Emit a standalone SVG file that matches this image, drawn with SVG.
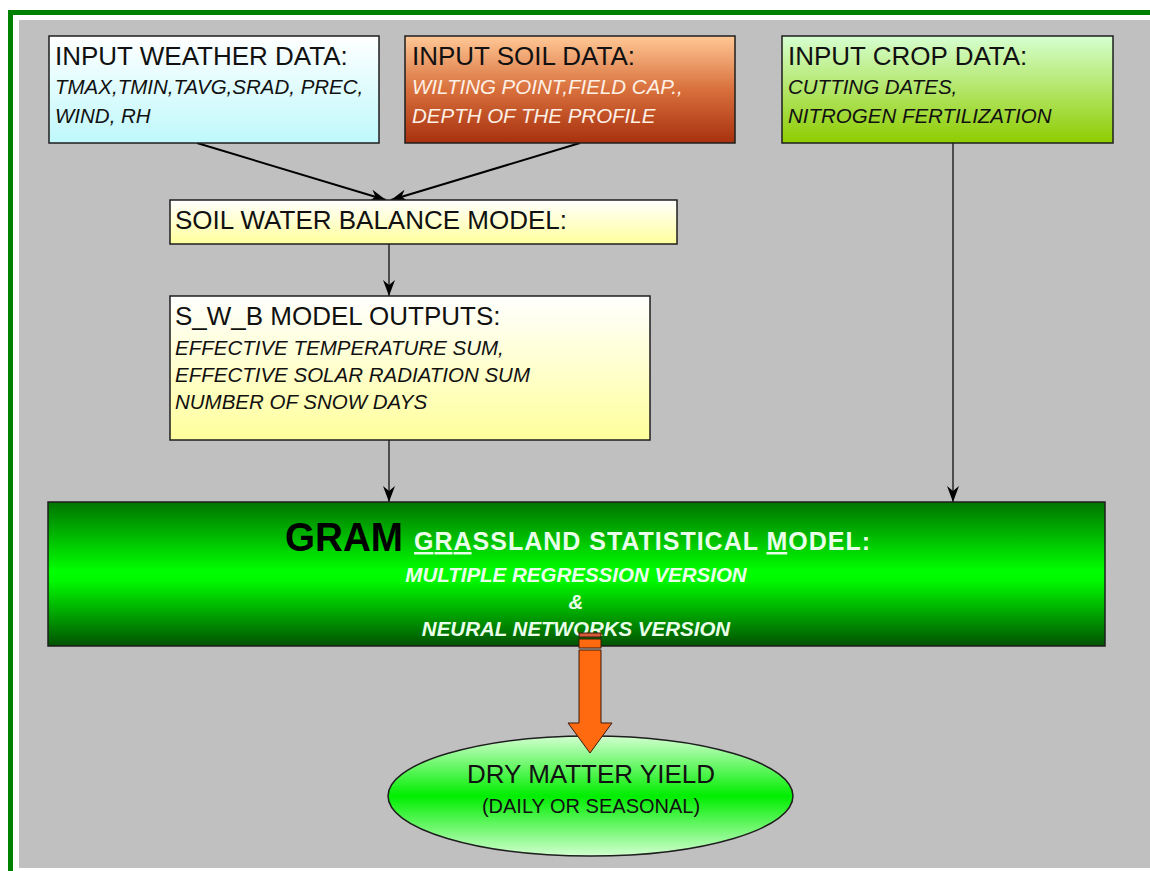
<svg xmlns="http://www.w3.org/2000/svg" width="1150" height="871" viewBox="0 0 1150 871">
<defs>
<linearGradient id="gWeather" x1="0" y1="0" x2="0" y2="1"><stop offset="0" stop-color="#ffffff"/><stop offset="1" stop-color="#bff8fb"/></linearGradient>
<linearGradient id="gSoil" x1="0" y1="0" x2="0" y2="1"><stop offset="0" stop-color="#ffc896"/><stop offset="0.5" stop-color="#d8703c"/><stop offset="1" stop-color="#a8300e"/></linearGradient>
<linearGradient id="gCrop" x1="0" y1="0" x2="0" y2="1"><stop offset="0" stop-color="#d6ffd0"/><stop offset="1" stop-color="#8fcc00"/></linearGradient>
<linearGradient id="gYellow" x1="0" y1="0" x2="0" y2="1"><stop offset="0" stop-color="#ffffff"/><stop offset="1" stop-color="#ffff9c"/></linearGradient>
<linearGradient id="gGram" x1="0" y1="0" x2="0" y2="1"><stop offset="0" stop-color="#007400"/><stop offset="0.48" stop-color="#00ff00"/><stop offset="0.55" stop-color="#00f800"/><stop offset="1" stop-color="#005200"/></linearGradient>
<linearGradient id="gEll" x1="0" y1="0" x2="0" y2="1"><stop offset="0" stop-color="#d2ffd0"/><stop offset="0.5" stop-color="#00ee00"/><stop offset="1" stop-color="#d2ffd0"/></linearGradient>
<marker id="ah" viewBox="0 0 16 12" refX="16" refY="6" markerWidth="16" markerHeight="12" markerUnits="userSpaceOnUse" orient="auto"><path d="M0,0 L16,6 L0,12 L5,6 z" fill="#000"/></marker>
<style>
.box{stroke:#1e1e1e;stroke-width:1.5}
.t{font-family:"Liberation Sans",Arial,sans-serif;fill:#111}
.h{font-size:26px}
.i{font-size:20.5px;font-style:italic}
.c{stroke:#000;fill:none;marker-end:url(#ah)}
.w{fill:#eaffea}
</style>
</defs>
<rect x="0" y="0" width="1150" height="871" fill="#ffffff"/>
<rect x="8" y="10" width="1142" height="5" fill="#008000"/>
<rect x="8" y="10" width="5" height="861" fill="#008000"/>
<rect x="19" y="20" width="1131" height="848" fill="#c0c0c0"/>

<g id="connectors">
<line class="c" x1="197" y1="143" x2="386" y2="200" stroke-width="2"/>
<line class="c" x1="580" y1="143" x2="391" y2="200" stroke-width="2"/>
<line class="c" x1="389" y1="244" x2="389" y2="296" stroke-width="1.2"/>
<line class="c" x1="389" y1="440" x2="389" y2="502" stroke-width="1.2"/>
<line class="c" x1="953" y1="143" x2="953" y2="502" stroke-width="1.2"/>
</g>

<g id="weather">
<rect class="box" x="49" y="36" width="330" height="107" fill="url(#gWeather)"/>
<text class="t h" x="55" y="65">INPUT WEATHER DATA:</text>
<text class="t i" x="55" y="94">TMAX,TMIN,TAVG,SRAD, PREC,</text>
<text class="t i" x="55" y="123">WIND, RH</text>
</g>

<g id="soil">
<rect class="box" x="405" y="36" width="330" height="107" fill="url(#gSoil)"/>
<text class="t h" x="412" y="65">INPUT SOIL DATA:</text>
<text class="t i" x="412" y="94" style="fill:#fff0e6">WILTING POINT,FIELD CAP.,</text>
<text class="t i" x="412" y="123" style="fill:#fff0e6">DEPTH OF THE PROFILE</text>
</g>

<g id="crop">
<rect class="box" x="782" y="36" width="331" height="107" fill="url(#gCrop)"/>
<text class="t h" x="788" y="65">INPUT CROP DATA:</text>
<text class="t i" x="788" y="94">CUTTING DATES,</text>
<text class="t i" x="788" y="123">NITROGEN FERTILIZATION</text>
</g>

<g id="swb">
<rect class="box" x="170" y="200" width="507" height="44" fill="url(#gYellow)"/>
<text class="t h" x="175" y="229">SOIL WATER BALANCE MODEL:</text>
</g>

<g id="swb-outputs">
<rect class="box" x="170" y="296" width="480" height="144" fill="url(#gYellow)"/>
<text class="t h" x="175" y="325">S_W_B MODEL OUTPUTS:</text>
<text class="t i" x="175" y="355">EFFECTIVE TEMPERATURE SUM,</text>
<text class="t i" x="175" y="382">EFFECTIVE SOLAR RADIATION SUM</text>
<text class="t i" x="175" y="409">NUMBER OF SNOW DAYS</text>
</g>

<g id="gram">
<rect class="box" x="48" y="502" width="1057" height="144" fill="url(#gGram)"/>
<text class="t" x="285" y="551" font-size="41" font-weight="bold" textLength="118" lengthAdjust="spacingAndGlyphs" style="fill:#000">GRAM</text>
<text class="t w" x="414" y="550" font-size="25" font-weight="bold" textLength="456" lengthAdjust="spacing"><tspan text-decoration="underline">GRA</tspan>SSLAND STATISTICAL <tspan text-decoration="underline">M</tspan>ODEL:</text>
<text class="t w" x="576" y="582" font-size="20.5" font-weight="bold" font-style="italic" text-anchor="middle">MULTIPLE REGRESSION VERSION</text>
<text class="t w" x="576" y="609" font-size="20.5" font-weight="bold" font-style="italic" text-anchor="middle">&amp;</text>
<text class="t w" x="576" y="636" font-size="20.5" font-weight="bold" font-style="italic" text-anchor="middle">NEURAL NETWORKS VERSION</text>
</g>

<g id="yield">
<ellipse cx="590.5" cy="796" rx="202.5" ry="60" fill="url(#gEll)" stroke="#1e1e1e" stroke-width="1.5"/>
<text class="t" x="591" y="783" font-size="26" text-anchor="middle">DRY MATTER YIELD</text>
<text class="t" x="591" y="813" font-size="20" text-anchor="middle">(DAILY OR SEASONAL)</text>
</g>

<g id="output-arrow">
<rect x="579" y="633" width="22" height="4" fill="#d8583a" stroke="#3a1a0a" stroke-width="1"/>
<rect x="579" y="639" width="22" height="9" fill="#ff6a10" stroke="#3a1a0a" stroke-width="1"/>
<path d="M579,650 L601,650 L601,723 L612,723 L590,753 L568,723 L579,723 Z" fill="#ff6a10" stroke="#3a1a0a" stroke-width="1"/>
</g>
</svg>
